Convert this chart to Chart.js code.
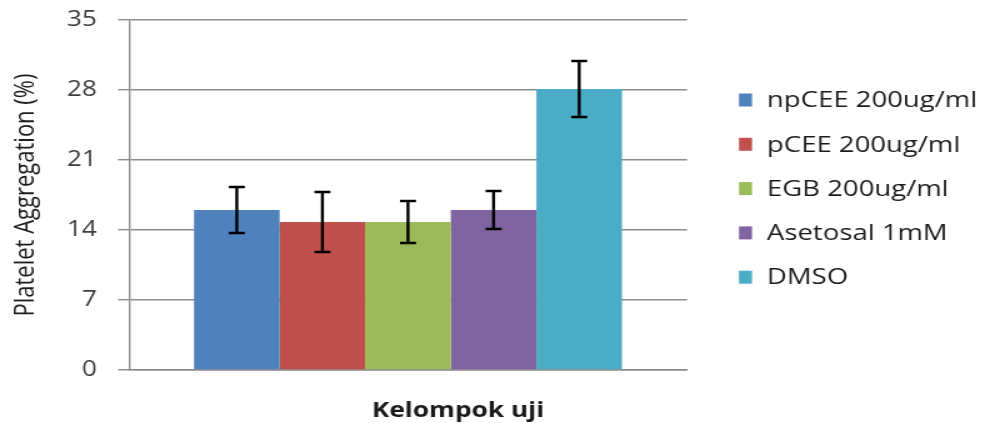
<!DOCTYPE html>
<html>
<head>
<meta charset="utf-8">
<script src="https://cdn.jsdelivr.net/npm/chart.js@4.4.0/dist/chart.umd.min.js"></script>
<style>
html,body{margin:0;padding:0;background:#fff;}
#wrap{width:985px;height:423px;position:relative;overflow:hidden;}
</style>
</head>
<body>
<div id="wrap"><canvas id="c" width="788" height="423" style="width:985px;height:423px;display:block;"></canvas></div>
<script>
const categories = [''];
const seriesNames = ['npCEE 200ug/ml', 'pCEE 200ug/ml', 'EGB 200ug/ml', 'Asetosal 1mM', 'DMSO'];
const seriesValues = [16.0, 14.8, 14.8, 16.0, 28.1];
const seriesErrors = [2.3, 3.0, 2.1, 1.9, 2.8];
const seriesColors = ['#4F81BD', '#C0504D', '#9BBB59', '#8064A2', '#4BACC6'];
const yTicks = [0, 7, 14, 21, 28, 35];
const yTitle = 'Platelet Aggregation (%)';
const xTitle = 'Kelompok uji';

// the reference is horizontally stretched; draw on a narrower canvas shown at full width
const FONT = "'Open Sans', 'Liberation Sans', sans-serif";

const errorBars = {
  id: 'errorBars',
  afterDatasetsDraw(chart) {
    const ctx = chart.ctx;
    const ys = chart.scales.y;
    ctx.save();
    ctx.strokeStyle = '#000';
    ctx.lineWidth = 2.4;
    chart.data.datasets.forEach((ds, i) => {
      const meta = chart.getDatasetMeta(i);
      meta.data.forEach((bar, j) => {
        const v = ds.data[j], e = ds.errors[j];
        const x = bar.x;
        const yt = ys.getPixelForValue(v + e);
        const yb = ys.getPixelForValue(v - e);
        const cap = 6.4;
        ctx.beginPath();
        ctx.moveTo(x, yt); ctx.lineTo(x, yb);
        ctx.moveTo(x - cap, yt); ctx.lineTo(x + cap, yt);
        ctx.moveTo(x - cap, yb); ctx.lineTo(x + cap, yb);
        ctx.stroke();
      });
    });
    ctx.restore();
  }
};

const customLegend = {
  id: 'customLegend',
  afterDraw(chart) {
    const ctx = chart.ctx;
    ctx.save();
    const boxX = 591.2, textX = 613.6, startY = 100, step = 44.3, boxW = 10.4, boxH = 13;
    ctx.font = '22px ' + FONT;
    ctx.textBaseline = 'middle';
    chart.data.datasets.forEach((ds, i) => {
      const cy = startY + i * step;
      ctx.fillStyle = ds.backgroundColor;
      ctx.fillRect(boxX, cy - boxH / 2, boxW, boxH);
      ctx.fillStyle = '#1a1a1a';
      ctx.fillText(ds.label, textX, cy + 1);
    });
    // x-axis title (offset right of plot centre, as in the reference)
    const ca = chart.chartArea;
    ctx.font = 'bold 21px ' + FONT;
    ctx.textAlign = 'center';
    ctx.fillStyle = '#1a1a1a';
    ctx.fillText(xTitle, (ca.left + ca.right) / 2 + 40, 411);
    ctx.restore();
  }
};

new Chart(document.getElementById('c'), {
  type: 'bar',
  data: {
    labels: categories,
    datasets: seriesNames.map((n, i) => ({
      label: n,
      data: [seriesValues[i]],
      errors: [seriesErrors[i]],
      backgroundColor: seriesColors[i],
      borderWidth: 0,
      barPercentage: 1.0,
      categoryPercentage: 0.767
    }))
  },
  options: {
    responsive: false,
    maintainAspectRatio: false,
    animation: false,
    devicePixelRatio: 1,
    layout: { padding: { top: 20, right: 238.4, bottom: 0, left: 6 } },
    plugins: {
      legend: { display: false },
      tooltip: { enabled: false }
    },
    scales: {
      x: {
        grid: { display: false, drawTicks: false },
        border: { display: true, color: '#8c8c8c', width: 1.5 },
        ticks: { display: false },
        title: { display: false },
        afterFit(scale) { scale.height = 53; }
      },
      y: {
        min: 0, max: 35,
        afterBuildTicks(scale) { scale.ticks = yTicks.map(v => ({ value: v })); },
        grid: { color: '#8c8c8c', lineWidth: 1.4, tickLength: 8.8, drawTicks: true },
        border: { display: true, color: '#8c8c8c', width: 1.4 },
        ticks: {
          color: '#3c3c3c', padding: 16.8,
          font: { family: FONT, size: 21 }
        },
        title: {
          display: true, text: yTitle, color: '#1a1a1a',
          font: { family: FONT, size: 22 },
          padding: { top: 2, bottom: 0 }
        },
        afterFit(scale) {
          scale.width = 103.2 - 6;
          scale.paddingTop = 0;
          scale.paddingBottom = 0;
        }
      }
    }
  },
  plugins: [errorBars, customLegend]
});
</script>
</body>
</html>
